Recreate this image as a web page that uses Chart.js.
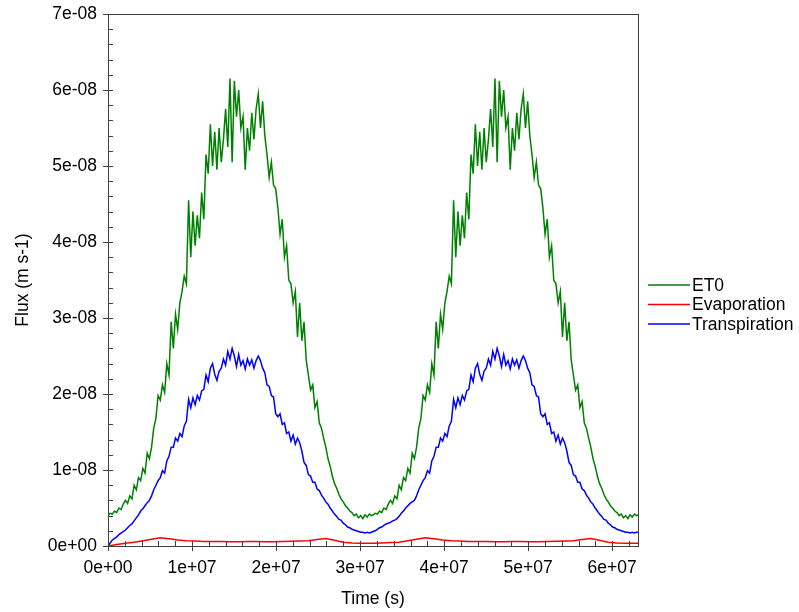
<!DOCTYPE html>
<html><head><meta charset="utf-8">
<script src="https://cdn.jsdelivr.net/npm/chart.js@4/dist/chart.umd.min.js"></script>
<style>html,body{margin:0;padding:0;background:#fff}#wrap{width:799px;height:612px}</style>
</head><body><div id="wrap"><canvas id="c" width="799" height="612"></canvas></div>
<script>
// ---------- DATA (values in units of 1e-8 m s-1, time in days) ----------
const SECONDS_PER_DAY = 86400;
const YEAR_DAYS = 365;
const STEP_DAYS = 3;        // sampling of ET0 / transpiration
const EVAP_STEP_DAYS = 12;  // sampling of evaporation
const END_DAY = 730;
const UNIT = 1e-8;

const seriesLabels = ['ET0', 'Evaporation', 'Transpiration'];
const xTickValues = [0, 1e7, 2e7, 3e7, 4e7, 5e7, 6e7];
const xTickLabels = ['0e+00', '1e+07', '2e+07', '3e+07', '4e+07', '5e+07', '6e+07'];
const yTickValues = [0, 1e-8, 2e-8, 3e-8, 4e-8, 5e-8, 6e-8, 7e-8];
const yTickLabels = ['0e+00', '1e-08', '2e-08', '3e-08', '4e-08', '5e-08', '6e-08', '7e-08'];

// ET0, one value every 3 days over a year (same in both years)
const et0Year = [
  0.41,0.43,0.42,0.46,0.44,0.50,0.48,0.55,0.60,0.56,
  0.66,0.62,0.80,0.74,0.90,0.86,1.02,0.96,1.22,1.15,
  1.30,1.55,1.68,1.98,1.92,2.12,2.02,2.40,2.25,2.95,
  2.60,3.05,2.85,3.20,3.35,3.55,3.45,4.55,3.80,4.40,
  3.95,4.35,4.05,4.65,4.30,5.15,4.90,5.55,5.00,5.45,
  4.95,5.50,5.05,5.35,5.75,5.25,6.15,5.05,6.12,5.65,
  6.00,5.50,5.65,4.95,5.50,5.20,5.70,5.35,5.75,5.95,
  5.50,5.85,5.40,5.15,4.85,5.05,4.75,4.70,4.45,4.10,
  4.30,3.80,3.95,3.50,3.45,3.20,3.35,2.75,3.20,2.70,
  2.95,2.45,2.25,2.05,2.12,1.82,1.90,1.62,1.55,1.42,
  1.30,1.15,1.05,0.92,0.82,0.76,0.68,0.62,0.58,0.53,
  0.50,0.46,0.44,0.40,0.42,0.37,0.40,0.36,0.41,0.38,
  0.42,0.40
];
// Transpiration, year 1 (starts from zero)
const transpYear = [
  0.00,0.04,0.08,0.10,0.12,0.15,0.17,0.19,0.21,0.24,
  0.27,0.29,0.33,0.37,0.41,0.46,0.49,0.53,0.57,0.60,
  0.66,0.74,0.80,0.86,0.90,0.99,0.96,1.12,1.18,1.30,
  1.30,1.42,1.38,1.48,1.44,1.58,1.64,1.93,1.82,1.95,
  1.86,1.98,1.92,2.04,2.06,2.25,2.16,2.34,2.40,2.26,
  2.18,2.30,2.34,2.46,2.38,2.56,2.46,2.60,2.50,2.36,
  2.52,2.38,2.44,2.33,2.46,2.38,2.45,2.34,2.44,2.50,
  2.44,2.34,2.28,2.12,2.10,1.98,1.96,1.74,1.70,1.74,
  1.60,1.62,1.48,1.50,1.38,1.46,1.34,1.42,1.36,1.25,
  1.10,1.06,0.94,0.92,0.84,0.84,0.75,0.73,0.67,0.63,
  0.58,0.55,0.50,0.46,0.42,0.39,0.35,0.34,0.30,0.28,
  0.25,0.24,0.22,0.21,0.20,0.19,0.18,0.18,0.17,0.18,
  0.17,0.18
];
// Transpiration, first 20 samples of year 2 (rest equals year 1)
const transpYear2Start = [
  0.19,0.20,0.22,0.24,0.25,0.27,0.29,0.30,0.31,0.33,
  0.34,0.36,0.39,0.43,0.46,0.50,0.53,0.56,0.58,0.60
];
// Evaporation, one value every 12 days, year 1
const evapYear = [
  0.00,0.02,0.035,0.05,0.07,0.09,0.11,0.095,0.08,0.07,
  0.065,0.06,0.06,0.058,0.055,0.057,0.06,0.058,0.056,0.057,
  0.06,0.062,0.065,0.07,0.085,0.10,0.075,0.05,0.04,0.035,0.035
];
const evapYear2Start = [0.035,0.04,0.045,0.05,0.07,0.09,0.11];
const endValues = { et0: 0.41, transp: 0.18, evap: 0.035 };

// ---------- build point lists ----------
function build(year1, year2start, step, endVal) {
  const pts = [];
  for (let yr = 0; yr < 2; yr++) {
    for (let i = 0; i < year1.length; i++) {
      let v = year1[i];
      if (yr === 1 && year2start && i < year2start.length) v = year2start[i];
      const day = yr * YEAR_DAYS + i * step;
      pts.push({ x: day * SECONDS_PER_DAY, y: v * UNIT });
    }
  }
  pts.push({ x: END_DAY * SECONDS_PER_DAY, y: endVal * UNIT });
  return pts;
}
const et0Pts = build(et0Year, null, STEP_DAYS, endValues.et0);
const evapPts = build(evapYear, evapYear2Start, EVAP_STEP_DAYS, endValues.evap);
const transpPts = build(transpYear, transpYear2Start, STEP_DAYS, endValues.transp);

const FONT = "'Liberation Sans', Arial, sans-serif";
const FSIZE = 17.5;
const AXIS_COLOR = '#404040';

const framePlugin = {
  id: 'frame',
  afterDraw(chart) {
    const { ctx, chartArea: a, scales } = chart;
    const xs = scales.x, ys = scales.y;
    ctx.save();
    ctx.lineWidth = 1;
    ctx.strokeStyle = AXIS_COLOR;
    ctx.strokeRect(Math.round(a.left) + 0.5, Math.round(a.top) + 0.5,
      Math.round(a.right - a.left), Math.round(a.bottom - a.top));
    ctx.beginPath();
    for (const v of yTickValues) {
      const y = Math.round(ys.getPixelForValue(v)) + 0.5;
      ctx.moveTo(a.left - 5, y); ctx.lineTo(a.left + 5, y);
    }
    for (let k = 0; k <= 35; k++) {
      if (k % 5 === 0) continue;
      const y = Math.round(ys.getPixelForValue(k * 2e-9)) + 0.5;
      ctx.moveTo(a.left, y); ctx.lineTo(a.left + 5, y);
    }
    for (const v of xTickValues) {
      const x = Math.round(xs.getPixelForValue(v)) + 0.5;
      ctx.moveTo(x, a.bottom - 5); ctx.lineTo(x, a.bottom + 5);
    }
    for (let k = 0; k <= 31; k++) {
      if (k % 5 === 0) continue;
      const x = Math.round(xs.getPixelForValue(k * 2e6)) + 0.5;
      ctx.moveTo(x, a.bottom - 5); ctx.lineTo(x, a.bottom);
    }
    ctx.stroke();
    // legend
    ctx.font = FSIZE + 'px ' + FONT;
    ctx.textBaseline = 'middle';
    ctx.textAlign = 'left';
    chart.data.datasets.forEach((ds, i) => {
      const y = 285 + i * 19.5;
      ctx.strokeStyle = ds.borderColor;
      ctx.lineWidth = 1.3;
      ctx.beginPath(); ctx.moveTo(648, y); ctx.lineTo(690, y); ctx.stroke();
      ctx.fillStyle = '#000';
      ctx.fillText(ds.label, 692, y + 1);
    });
    ctx.restore();
  }
};

new Chart(document.getElementById('c'), {
  type: 'line',
  data: {
    datasets: [
      { label: seriesLabels[0], data: et0Pts, borderColor: '#008000' },
      { label: seriesLabels[1], data: evapPts, borderColor: '#ff0000' },
      { label: seriesLabels[2], data: transpPts, borderColor: '#0000ff' }
    ]
  },
  options: {
    responsive: false,
    animation: false,
    devicePixelRatio: 1,
    parsing: false,
    elements: { point: { radius: 0 }, line: { borderWidth: 1.5, tension: 0 } },
    layout: { padding: { top: 14, right: 161, left: 0, bottom: 0 } },
    plugins: { legend: { display: false }, tooltip: { enabled: false } },
    scales: {
      x: {
        type: 'linear', min: 0, max: 63072000,
        afterBuildTicks(s) { s.ticks = xTickValues.map(v => ({ value: v })); },
        afterFit(s) { s.height = 66; s.paddingLeft = 0; s.paddingRight = 0; },
        grid: { display: false, drawTicks: false },
        border: { display: false },
        ticks: {
          autoSkip: false, maxRotation: 0, minRotation: 0,
          padding: 12, color: '#000', font: { family: FONT, size: FSIZE },
          callback(v) { const k = xTickValues.findIndex(t => Math.abs(t - v) < 1); return k >= 0 ? xTickLabels[k] : ''; }
        },
        title: { display: true, text: 'Time (s)', color: '#000', font: { family: FONT, size: FSIZE }, padding: { top: 0, bottom: 2.5 } }
      },
      y: {
        type: 'linear', min: 0, max: 7e-8,
        afterBuildTicks(s) { s.ticks = yTickValues.map(v => ({ value: v })); },
        afterFit(s) { s.width = 108; s.paddingTop = 0; s.paddingBottom = 0; },
        grid: { display: false, drawTicks: false },
        border: { display: false },
        ticks: {
          autoSkip: false,
          padding: 11, color: '#000', font: { family: FONT, size: FSIZE },
          callback(v) { const k = yTickValues.findIndex(t => Math.abs(t - v) < 1e-12); return k >= 0 ? yTickLabels[k] : ''; }
        },
        title: { display: true, text: 'Flux (m s-1)', color: '#000', font: { family: FONT, size: FSIZE }, padding: { top: 12.5, bottom: 0 } }
      }
    }
  },
  plugins: [framePlugin]
});
</script>
</body></html>
